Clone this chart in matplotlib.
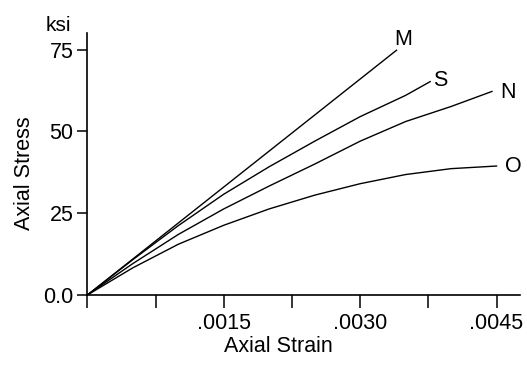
import matplotlib
matplotlib.use("Agg")
import matplotlib.pyplot as plt

plt.rcParams['font.family'] = ['Liberation Sans', 'DejaVu Sans']

# strain / stress readings for each curve
m_strain = [0, .0005, .001, .0015, .002, .0025, .003, .0034]
m_stress = [0, 11.0, 22.0, 33.0, 44.0, 55.0, 66.0, 74.8]

s_strain = [0, .0005, .001, .0015, .002, .0025, .003, .0035, .00377]
s_stress = [0, 10.8, 21.2, 30.8, 39.2, 47.0, 54.5, 61.0, 65.2]

n_strain = [0, .0005, .001, .0015, .002, .0025, .003, .0035, .004, .00445]
n_stress = [0, 9.6, 18.5, 26.3, 33.3, 40.0, 47.0, 53.0, 57.6, 62.2]

o_strain = [0, .0005, .001, .0015, .002, .0025, .003, .0035, .004, .0045]
o_stress = [0, 8.3, 15.5, 21.3, 26.3, 30.5, 34.0, 36.8, 38.6, 39.4]

curve_names = ['M', 'S', 'N', 'O']

x_ticks = [0, .00075, .0015, .00225, .003, .00375, .0045]
x_ticklabels = ['', '', '.0015', '', '.0030', '', '.0045']
y_ticks = [0, 25, 50, 75]
y_ticklabels = ['0.0', '25', '50', '75']

fig = plt.figure(figsize=(5.27, 3.65), dpi=100)
ax = fig.add_axes([0.166, 0.192, 0.821, 0.717])

curves = [(m_strain, m_stress), (s_strain, s_stress),
          (n_strain, n_stress), (o_strain, o_stress)]
# label offsets from the curve end (strain, stress)
offsets = {'M': (.00007, 3.4), 'S': (.00011, 0.3), 'N': (.00018, -0.3), 'O': (.00019, 0)}
for name, (xs, ys) in zip(curve_names, curves):
    ax.plot(xs, ys, color='black', lw=1.0)
    dx, dy = offsets[name]
    ax.text(xs[-1] + dx, ys[-1] + dy, name,
            fontsize=15.5, ha='center', va='center')

ax.set_xlim(0, .00476)
ax.set_ylim(0, 80)
ax.set_xticks(x_ticks)
ax.set_xticklabels(x_ticklabels)
ax.set_yticks(y_ticks)
ax.set_yticklabels(y_ticklabels)

for side in ['top', 'right']:
    ax.spines[side].set_visible(False)
for side in ['left', 'bottom']:
    ax.spines[side].set_linewidth(1.2)

ax.tick_params(axis='x', direction='out', length=9, width=1.1, pad=4, labelsize=15.5)
ax.tick_params(axis='y', direction='out', length=7, width=1.1, pad=3, labelsize=15.5)

fig.text(0.111, 0.929, 'ksi', fontsize=15, ha='center', va='center')
fig.text(0.047, 0.526, 'Axial Stress', fontsize=15.5, rotation=90, ha='center', va='center')
fig.text(0.528, 0.052, 'Axial Strain', fontsize=15.5, ha='center', va='center')

fig.savefig('out.png', dpi=100)
